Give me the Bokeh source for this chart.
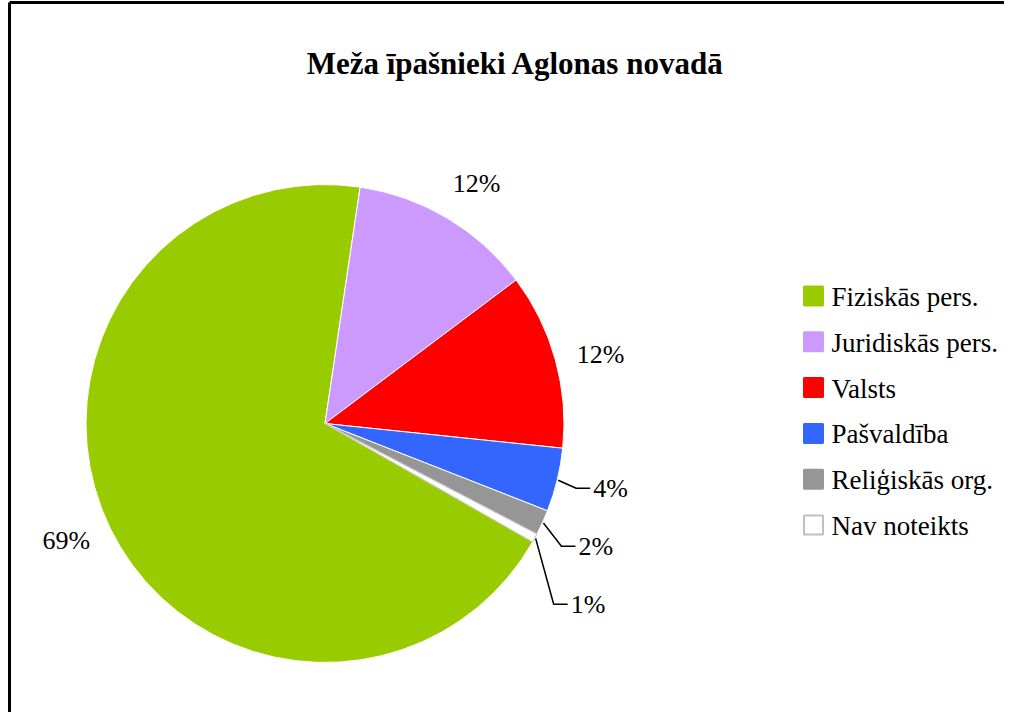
import math
from bokeh.plotting import figure
from bokeh.models import Range1d, ColumnDataSource
from bokeh.core.properties import value
from bokeh.embed import file_html
from bokeh.resources import INLINE

# ---- data ----
title_text = "Meža īpašnieki Aglonas novadā"
categories = ["Fiziskās pers.", "Juridiskās pers.", "Valsts", "Pašvaldība", "Reliģiskās org.", "Nav noteikts"]
shares = [69.1, 12.4, 11.9, 4.3, 1.7, 0.6]
colors = ["#99CC00", "#CC99FF", "#FF0000", "#3366FF", "#969696", "#FFFFFF"]

# ---- layout (screen px) ----
W, H = 1004, 712
FONT = "Liberation Serif"
CX, CY, R = 324.5, 423.0, 239.0
FIRST_ANGLE = 119.7  # degrees clockwise from 12 o'clock


def dx(x):
    return x


def dy(y):
    return H - y


p = figure(width=W, height=H, x_range=Range1d(0, W), y_range=Range1d(0, H),
           output_backend="svg", toolbar_location=None, min_border=0)
p.xaxis.visible = False
p.yaxis.visible = False
p.xgrid.visible = False
p.ygrid.visible = False
p.outline_line_color = None
p.background_fill_color = "white"
p.border_fill_color = "white"

# frame lines (left and top)
p.segment(x0=[dx(9), dx(9)], y0=[dy(2), dy(2)], x1=[dx(9), dx(W)], y1=[dy(H), dy(2)],
          line_color="black", line_width=3)

# ---- pie ----
total = sum(shares)
starts, ends, mids = [], [], []
a = FIRST_ANGLE
for v in shares:
    span = v / total * 360.0
    starts.append(a)
    ends.append(a + span)
    mids.append(a + span / 2)
    a += span

src = ColumnDataSource(dict(
    x=[dx(CX)] * len(shares), y=[dy(CY)] * len(shares),
    start=[math.radians(90 - s) for s in starts],
    end=[math.radians(90 - e) for e in ends],
    color=colors,
    line=["#FFFFFF" if c != "#FFFFFF" else "#BFBFBF" for c in colors],
))
p.wedge(x="x", y="y", radius=R, radius_units="screen", start_angle="start", end_angle="end",
        direction="clock", fill_color="color", line_color="line", line_width=1, source=src)

# ---- data labels ----
cx_lab, cy_lab, t_lab = [], [], []
lx, ly, lt = [], [], []
lead_xs, lead_ys = [], []
prev_y = None
for v, m in zip(shares, mids):
    pct = f"{round(v / total * 100)}%"
    if v / total * 100 >= 5:
        ang = math.radians(m + 1.5)
        x = CX + 284 * math.sin(ang)
        y = CY - 284 * math.cos(ang)
        cx_lab.append(dx(x)); cy_lab.append(dy(y)); t_lab.append(pct)
    else:
        ang = math.radians(m)
        px = CX + (R + 1) * math.sin(ang)
        py = CY - (R + 1) * math.cos(ang)
        y = py + 8
        if prev_y is not None and y < prev_y + 58:
            y = prev_y + 58
        prev_y = y
        left = px + 35
        lx.append(dx(left)); ly.append(dy(y)); lt.append(pct)
        lead_xs.append([dx(px), dx(left - 17), dx(left - 3)])
        lead_ys.append([dy(py), dy(y), dy(y)])

p.multi_line(xs=lead_xs, ys=lead_ys, line_color="black", line_width=1.5)
p.text(x=cx_lab, y=cy_lab, text=t_lab, text_align="center", text_baseline="middle",
       text_font=value(FONT), text_font_size="26px", text_color="black")
p.text(x=lx, y=ly, text=lt, text_align="left", text_baseline="middle",
       text_font=value(FONT), text_font_size="26px", text_color="black")

# ---- title ----
p.text(x=[dx(515)], y=[dy(63)], text=[title_text], text_align="center",
       text_baseline="alphabetic", text_font=value(FONT), text_font_size="31px",
       text_font_style="bold", text_color="black")

# ---- legend ----
LEG_X, LEG_Y0, LEG_DY, SQ = 813, 295.5, 45.8, 19
ys = [dy(LEG_Y0 + LEG_DY * i) for i in range(len(categories))]
p.rect(x=[dx(LEG_X)] * len(categories), y=ys, width=SQ, height=SQ,
       width_units="screen", height_units="screen", fill_color=colors,
       line_color=["#C0C0C0" if c == "#FFFFFF" else c for c in colors], line_width=2)
p.text(x=[dx(831)] * len(categories), y=[y - 1 for y in ys], text=categories,
       text_align="left", text_baseline="middle", text_font=value(FONT),
       text_font_size="27px", text_color="black")

open("out.html", "w").write(file_html(p, INLINE))
